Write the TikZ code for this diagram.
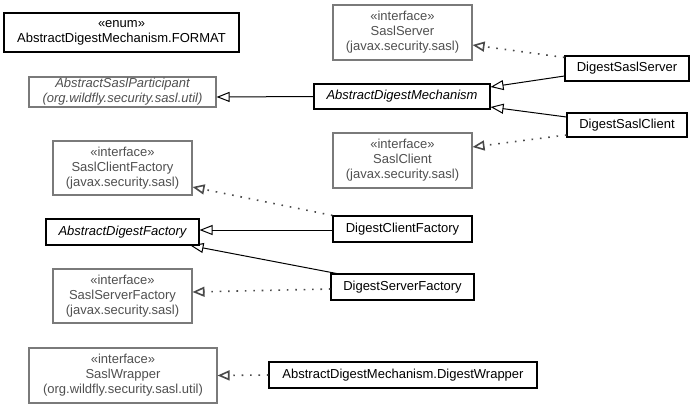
\documentclass[tikz,border=0pt]{standalone}
\usepackage{fontspec}
\setmainfont{Liberation Sans}
\usetikzlibrary{arrows.meta}
\definecolor{ifborder}{HTML}{7A7A7A}
\definecolor{iftext}{HTML}{505050}
\definecolor{dotline}{HTML}{4A4A4A}
\begin{document}
\begin{tikzpicture}[x=1pt,y=-1pt,
  every node/.style={font=\fontsize{13}{15}\selectfont, align=center, inner sep=0pt},
  cls/.style={draw=black, line width=1.1pt, text=black},
  iface/.style={draw=ifborder, line width=1.1pt, text=iftext},
  inherit/.style={draw=black, line width=1pt, -{Triangle[open,length=13pt,width=10pt]}},
  realize/.style={draw=dotline, line width=1.6pt, dash pattern=on 1.6pt off 6.8pt,
    -{Triangle[open,length=12pt,width=10pt,line width=1.6pt,sep=0pt]}},
]
\useasboundingbox (0,0) rectangle (695,408);
\fill[white] (0,0) rectangle (695,408);

\node[cls, minimum width=235pt, minimum height=39pt] (fmt) at (121.5,32.5) {«enum»\\AbstractDigestMechanism.FORMAT};
\node[iface, minimum width=187pt, minimum height=30pt, font=\fontsize{13}{15}\selectfont\itshape] (asp) at (122.5,92) {AbstractSaslParticipant\\(org.wildfly.security.sasl.util)};
\node[cls, minimum width=176pt, minimum height=25pt, font=\fontsize{13}{15}\selectfont\itshape] (adm) at (402,96.5) {AbstractDigestMechanism};
\node[iface, minimum width=139pt, minimum height=55pt] (ss) at (402.5,32.5) {«interface»\\SaslServer\\(javax.security.sasl)};
\node[cls, minimum width=124pt, minimum height=25pt] (dss) at (627,68.5) {DigestSaslServer};
\node[cls, minimum width=120pt, minimum height=24pt] (dsc) at (627,125) {DigestSaslClient};
\node[iface, minimum width=139pt, minimum height=55pt] (sc) at (402.5,160.5) {«interface»\\SaslClient\\(javax.security.sasl)};
\node[iface, minimum width=139pt, minimum height=54pt] (scf) at (122.5,168) {«interface»\\SaslClientFactory\\(javax.security.sasl)};
\node[cls, minimum width=153pt, minimum height=26pt, font=\fontsize{13}{15}\selectfont\itshape] (adf) at (122.5,232) {AbstractDigestFactory};
\node[cls, minimum width=139pt, minimum height=26pt] (dcf) at (402.5,229) {DigestClientFactory};
\node[cls, minimum width=143pt, minimum height=26pt] (dsf) at (402.5,287) {DigestServerFactory};
\node[iface, minimum width=139pt, minimum height=54pt] (ssf) at (122.5,296) {«interface»\\SaslServerFactory\\(javax.security.sasl)};
\node[iface, minimum width=188pt, minimum height=55pt] (sw) at (123,375.5) {«interface»\\SaslWrapper\\(org.wildfly.security.sasl.util)};
\node[cls, minimum width=268pt, minimum height=26pt] (dw) at (403,375) {AbstractDigestMechanism.DigestWrapper};

\draw[inherit] (adm.west) -- ([yshift=-5pt]asp.east);
\draw[realize] ([yshift=-2pt]dss.north west) -- ([yshift=-12.5pt]ss.east);
\draw[inherit] ([yshift=-7.5pt]dss.west) -- ([yshift=9.5pt]adm.east);
\draw[inherit] ([yshift=8pt]dsc.west) -- ([yshift=-10.5pt]adm.east);
\draw[realize] ([yshift=-10pt]dsc.west) -- ([yshift=13.5pt]sc.east);
\draw[realize] (dcf.north west) -- ([yshift=-19pt]scf.east);
\draw[inherit] ([yshift=-1pt]dcf.west) -- ([yshift=2pt]adf.east);
\draw[inherit] ([xshift=6pt]dsf.north west) -- ([xshift=-9pt]adf.south east);
\draw[realize] ([yshift=-2pt]dsf.west) -- ([yshift=4pt]ssf.east);
\draw[realize] (dw.west) -- (sw.east);
\end{tikzpicture}
\end{document}
